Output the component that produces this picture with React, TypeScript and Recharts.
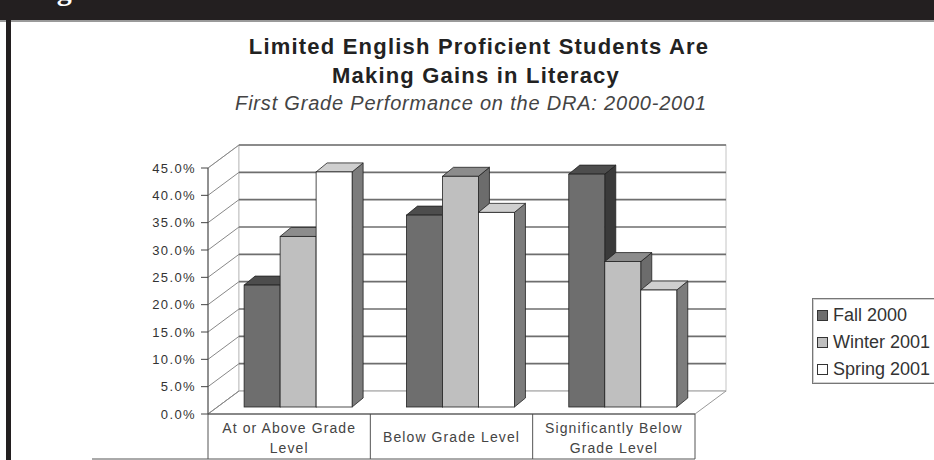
import React from 'react';
import { BarChart, Bar, XAxis, YAxis, Legend, ReferenceArea } from 'recharts';

// categories and values (percent of students)
const categories = ['At or Above Grade Level', 'Below Grade Level', 'Significantly Below Grade Level'];
const categoryLines = [['At or Above Grade', 'Level'], ['Below Grade Level'], ['Significantly Below', 'Grade Level']];
const seriesNames = ['Fall 2000', 'Winter 2001', 'Spring 2001'];
const fall2000 = [22.3, 35.1, 42.6];
const winter2001 = [31.2, 42.2, 26.6];
const spring2001 = [43.0, 35.6, 21.4];
const yTicks = [0, 5, 10, 15, 20, 25, 30, 35, 40, 45];
const yMax = 45;

const data = categories.map((c, i) => ({
  category: c,
  fall: fall2000[i],
  winter: winter2001[i],
  spring: spring2001[i],
}));

// fake 3D: wall depth and bar depth
const WALL_DX = 31;
const WALL_DY = -23;
const BAR_DX = 9;
const BAR_DY = -7;
const DEPTH_X = 11;
const DEPTH_Y = -9;

const makeBox = (front: string, top: string, side: string) => (p: any) => {
  const { x, y, width, height } = p;
  if (!height || height <= 0) return <g />;
  const fx = x + BAR_DX;
  const fy = y + BAR_DY;
  const r = fx + width;
  const b = fy + height;
  return (
    <g>
      <polygon
        points={`${r},${fy} ${r + DEPTH_X},${fy + DEPTH_Y} ${r + DEPTH_X},${b + DEPTH_Y} ${r},${b}`}
        fill={side}
        stroke="#222"
        strokeWidth={0.8}
      />
      <polygon
        points={`${fx},${fy} ${fx + DEPTH_X},${fy + DEPTH_Y} ${r + DEPTH_X},${fy + DEPTH_Y} ${r},${fy}`}
        fill={top}
        stroke="#222"
        strokeWidth={0.8}
      />
      <rect x={fx} y={fy} width={width} height={height} fill={front} stroke="#222" strokeWidth={0.8} />
    </g>
  );
};

// walls, floor, gridlines and the data-table frame under the axis
const Walls = (p: any) => {
  const { x, y, width, height } = p;
  const bottom = y + height;
  const right = x + width;
  const lines = yTicks.map((t) => bottom - (height * t) / yMax);
  const n = categories.length;
  return (
    <g>
      <polygon
        points={`${x},${bottom} ${x},${y} ${x + WALL_DX},${y + WALL_DY} ${x + WALL_DX},${bottom + WALL_DY}`}
        fill="#fff"
        stroke="#bbb"
      />
      <rect x={x + WALL_DX} y={y + WALL_DY} width={width} height={height} fill="#fff" stroke="#c4c4c4" />
      <polygon
        points={`${x},${bottom} ${right},${bottom} ${right + WALL_DX},${bottom + WALL_DY} ${x + WALL_DX},${bottom + WALL_DY}`}
        fill="#fff"
        stroke="#999"
      />
      {lines.map((ly, i) => (
        <g key={i}>
          <line x1={x} y1={ly} x2={x + WALL_DX} y2={ly + WALL_DY} stroke="#888" />
          {i > 0 && (
            <line x1={x + WALL_DX} y1={ly + WALL_DY} x2={right + WALL_DX} y2={ly + WALL_DY} stroke="#6e6e6e" strokeWidth={1.6} />
          )}
        </g>
      ))}
      <line x1={92} y1={bottom + 45} x2={right} y2={bottom + 45} stroke="#555" />
      {Array.from({ length: n + 1 }, (_, i) => (
        <line key={i} x1={x + (width * i) / n} y1={bottom} x2={x + (width * i) / n} y2={bottom + 45} stroke="#555" />
      ))}
    </g>
  );
};

const YTick = (p: any) => (
  <text x={p.x} y={p.y} textAnchor="end" dominantBaseline="central" fontSize={13} fill="#333" letterSpacing={1.4}>
    {`${Number(p.payload.value).toFixed(1)}%`}
  </text>
);

const XTick = (p: any) => {
  const idx = categories.indexOf(p.payload.value);
  const lines = categoryLines[idx] || [p.payload.value];
  const start = lines.length === 1 ? 23 : 14;
  return (
    <g>
      {lines.map((l, i) => (
        <text
          key={i}
          x={p.x}
          y={p.y + start + i * 20}
          textAnchor="middle"
          dominantBaseline="central"
          fontSize={14}
          fill="#444"
          letterSpacing={1.1}
        >
          {l}
        </text>
      ))}
    </g>
  );
};

const renderLegend = (props: any) => {
  const payload = [...(props.payload || [])].sort(
    (a: any, b: any) => seriesNames.indexOf(a.value) - seriesNames.indexOf(b.value)
  );
  return (
    <div
      style={{
        border: '1px solid #777',
        boxShadow: 'inset 0 0 0 1px #d0d0d0',
        background: '#fff',
        padding: '3px 0 0 4px',
        width: 150,
        boxSizing: 'border-box',
      }}
    >
      {payload.map((item: any) => (
        <div
          key={item.value}
          style={{ display: 'flex', alignItems: 'center', height: 27, fontSize: 18, color: '#333', whiteSpace: 'nowrap' }}
        >
          <span style={{ width: 9, height: 9, border: '1px solid #333', background: item.color, marginRight: 5, flex: 'none' }} />
          <span>{item.value}</span>
        </div>
      ))}
    </div>
  );
};

const App: React.FC = () => {
  return (
    <div
      style={{
        position: 'absolute',
        left: 0,
        top: 0,
        width: 934,
        height: 460,
        overflow: 'hidden',
        background: '#fff',
        fontFamily: '"Liberation Sans", Arial, sans-serif',
      }}
    >
      {/* chart */}
      <div style={{ position: 'absolute', left: 0, top: 0 }}>
        <BarChart
          width={934}
          height={460}
          data={data}
          margin={{ top: 168, right: 239, bottom: 1, left: 148 }}
          barCategoryGap="16.7%"
          barGap={0}
        >
          <ReferenceArea y1={0} y2={yMax} shape={Walls} zIndex={-200} />
          <XAxis
            dataKey="category"
            height={45}
            tickLine={false}
            tickSize={0}
            tickMargin={0}
            axisLine={{ stroke: '#444' }}
            tick={XTick}
            interval={0}
          />
          <YAxis
            width={60}
            domain={[0, yMax]}
            ticks={yTicks}
            tickSize={7}
            tickMargin={5}
            tickLine={{ stroke: '#444' }}
            axisLine={{ stroke: '#444' }}
            tick={YTick}
          />
          <Legend
            layout="vertical"
            align="center"
            verticalAlign="middle"
            wrapperStyle={{ left: 812, top: 298, width: 150 }}
            content={renderLegend}
          />
          <Bar dataKey="fall" name={seriesNames[0]} fill="#6e6e6e" shape={makeBox('#6e6e6e', '#4d4d4d', '#3a3a3a')} isAnimationActive={false} />
          <Bar dataKey="winter" name={seriesNames[1]} fill="#bfbfbf" shape={makeBox('#bfbfbf', '#8c8c8c', '#6c6c6c')} isAnimationActive={false} />
          <Bar dataKey="spring" name={seriesNames[2]} fill="#ffffff" shape={makeBox('#ffffff', '#cfcfcf', '#7c7c7c')} isAnimationActive={false} />
        </BarChart>
      </div>

      {/* titles */}
      <div style={{ position: 'absolute', left: 179, top: 36, width: 600, textAlign: 'center', fontSize: 22, lineHeight: '22px', fontWeight: 'bold', color: '#222', letterSpacing: 1.2, whiteSpace: 'nowrap' }}>
        Limited English Proficient Students Are
      </div>
      <div style={{ position: 'absolute', left: 176, top: 65, width: 600, textAlign: 'center', fontSize: 22, lineHeight: '22px', fontWeight: 'bold', color: '#222', letterSpacing: 1.2, whiteSpace: 'nowrap' }}>
        Making Gains in Literacy
      </div>
      <div style={{ position: 'absolute', left: 171, top: 93, width: 600, textAlign: 'center', fontSize: 20, lineHeight: '20px', fontStyle: 'italic', color: '#444', letterSpacing: 0.8, whiteSpace: 'nowrap' }}>
        First Grade Performance on the DRA: 2000-2001
      </div>

      {/* scanned page frame: black heading band and left rule */}
      <div style={{ position: 'absolute', left: 0, top: 0, width: 934, height: 20, background: '#231f20', overflow: 'hidden' }}>
        <svg width={934} height={20}>
          <text x={30} y={0} fill="#fff" fontFamily='"Liberation Serif", "DejaVu Serif", serif' fontWeight="bold" fontSize={30}>
            Figure
          </text>
        </svg>
      </div>
      <div style={{ position: 'absolute', left: 0, top: 20, width: 934, height: 2, background: '#9a9a9a' }} />
      <div style={{ position: 'absolute', left: 6, top: 0, width: 5, height: 460, background: '#231f20' }} />
    </div>
  );
};

export default App;
